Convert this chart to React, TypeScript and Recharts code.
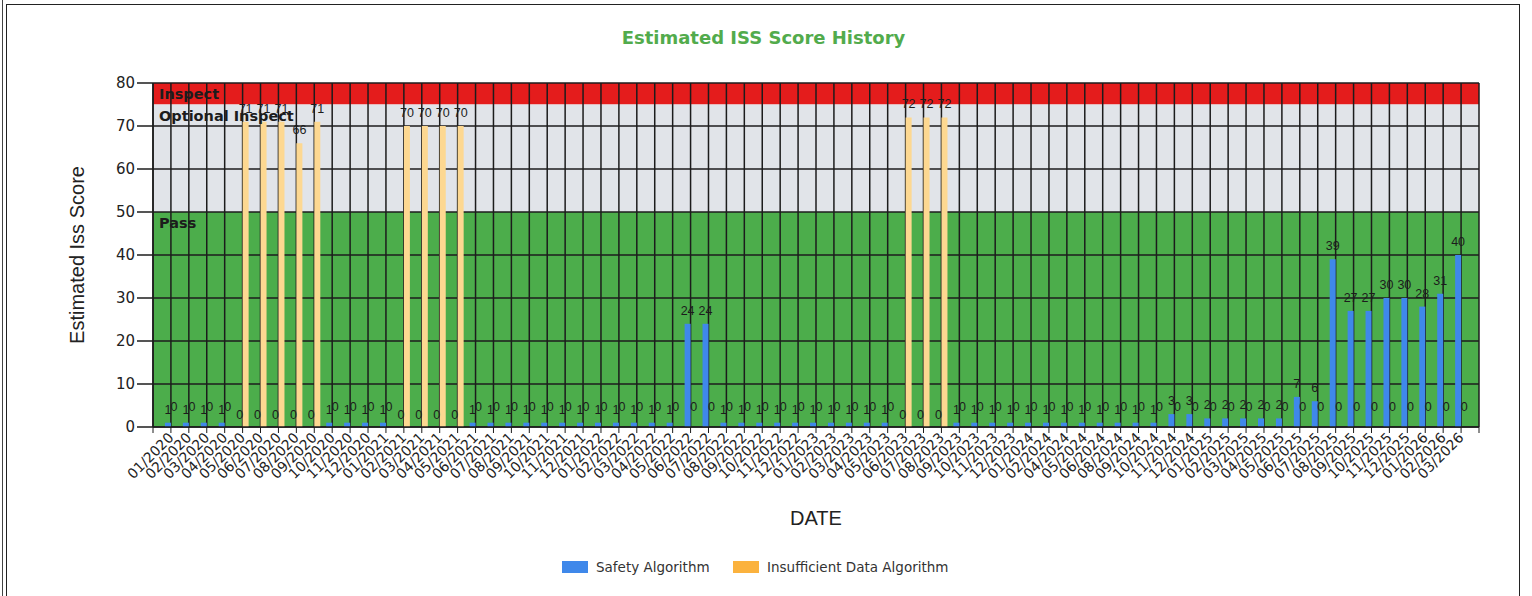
import { Bar, BarChart, CartesianGrid, LabelList, ReferenceArea, XAxis, YAxis } from "recharts";

// One label per month with data (two months of 2024 have no reading).
const MONTHS = [
  "01/2020", "02/2020", "03/2020", "04/2020", "05/2020", "06/2020", "07/2020", "08/2020", "09/2020", "10/2020", "11/2020", "12/2020",
  "01/2021", "02/2021", "03/2021", "04/2021", "05/2021", "06/2021", "07/2021", "08/2021", "09/2021", "10/2021", "11/2021", "12/2021",
  "01/2022", "02/2022", "03/2022", "04/2022", "05/2022", "06/2022", "07/2022", "08/2022", "09/2022", "10/2022", "11/2022", "12/2022",
  "01/2023", "02/2023", "03/2023", "04/2023", "05/2023", "06/2023", "07/2023", "08/2023", "09/2023", "10/2023", "11/2023", "12/2023",
  "01/2024", "02/2024", "04/2024", "05/2024", "06/2024", "08/2024", "09/2024", "10/2024", "11/2024", "12/2024",
  "01/2025", "02/2025", "03/2025", "04/2025", "05/2025", "06/2025", "07/2025", "08/2025", "09/2025", "10/2025", "11/2025", "12/2025",
  "01/2026", "02/2026", "03/2026",
];

const SAFETY = [
  1, 1, 1, 1, 0, 0, 0, 0, 0, 1, 1, 1,
  1, 0, 0, 0, 0, 1, 1, 1, 1, 1, 1, 1,
  1, 1, 1, 1, 1, 24, 24, 1, 1, 1, 1, 1,
  1, 1, 1, 1, 1, 0, 0, 0, 1, 1, 1, 1,
  1, 1, 1, 1, 1, 1, 1, 1, 3, 3,
  2, 2, 2, 2, 2, 7, 6, 39, 27, 27, 30, 30,
  28, 31, 40,
];

const INSUFFICIENT = [
  0, 0, 0, 0, 71, 71, 71, 66, 71, 0, 0, 0,
  0, 70, 70, 70, 70, 0, 0, 0, 0, 0, 0, 0,
  0, 0, 0, 0, 0, 0, 0, 0, 0, 0, 0, 0,
  0, 0, 0, 0, 0, 72, 72, 72, 0, 0, 0, 0,
  0, 0, 0, 0, 0, 0, 0, 0, 0, 0,
  0, 0, 0, 0, 0, 0, 0, 0, 0, 0, 0, 0,
  0, 0, 0,
];

const Y_TICKS = [0, 10, 20, 30, 40, 50, 60, 70, 80];

const BANDS = [
  { from: 75, to: 80, fill: "#e41c1c", label: "Inspect" },
  { from: 50, to: 75, fill: "#e1e4e9", label: "Optional Inspect" },
  { from: 0, to: 50, fill: "#4cad4b", label: "Pass" },
];

const BLUE = "#3f88ea";
const ORANGE_BAR = "#fdd891";
const ORANGE_KEY = "#fbb23e";
const INK = "#1c1c1c";

// Months sit on whole positions 1..N; the axis runs 0..N+1 like the source chart.
const data = MONTHS.map((month, i) => ({
  k: i + 1,
  month,
  safety: SAFETY[i],
  insufficient: INSUFFICIENT[i],
}));
const X_TICKS = Array.from({ length: MONTHS.length + 2 }, (_, i) => i);

function DateTick({ x, y, payload }: { x?: number; y?: number; payload?: { value: number } }) {
  const label = MONTHS[(payload?.value ?? 0) - 1];
  if (!label || x == null || y == null) return null;
  return (
    <text
      x={x}
      y={y}
      dy={5}
      textAnchor="end"
      transform={`rotate(-45 ${x} ${y})`}
      fontSize={14}
      fontFamily="DejaVu Sans"
      fill="#222"
    >
      {label}
    </text>
  );
}

// Value above each bar; zero labels get lifted a bit so pairs don't sit on one line
// (the source chart nudges them around with callouts).
function ValueLabel(lift: number) {
  return (props: any) => {
    const { x, y, width, value } = props;
    if (value == null) return null;
    const v = Number(value);
    const dy = v === 0 ? lift : 9;
    return (
      <text
        x={Number(x) + Number(width) / 2}
        y={Number(y) - dy}
        textAnchor="middle"
        fontSize={12.5}
        fontFamily="Liberation Sans"
        fill={INK}
      >
        {v}
      </text>
    );
  };
}

export default function App() {
  return (
    <div
      style={{
        position: "absolute",
        left: 0,
        top: 0,
        width: 1532,
        height: 596,
        background: "#fff",
        overflow: "hidden",
      }}
    >
      <div style={{ position: "absolute", left: 2, top: 0, height: 596, borderLeft: "1px solid #444" }} />
      <div
        style={{
          position: "absolute",
          left: 6,
          top: 4,
          width: 1512,
          height: 620,
          border: "1.5px solid #222",
        }}
      />
      <div
        style={{
          position: "absolute",
          left: 6,
          width: 1515,
          top: 26,
          textAlign: "center",
          fontFamily: "DejaVu Sans",
          fontWeight: "bold",
          fontSize: 18,
          lineHeight: "24px",
          color: "#52ab4c",
        }}
      >
        Estimated ISS Score History
      </div>

      <BarChart
        width={1532}
        height={540}
        data={data}
        margin={{ top: 83, right: 53, bottom: 3, left: 93 }}
        barGap={0}
        style={{ position: "absolute", left: 0, top: 0 }}
      >
        {BANDS.map((b) => (
          <ReferenceArea
            key={b.label}
            y1={b.from}
            y2={b.to}
            fill={b.fill}
            fillOpacity={1}
            stroke="none"
            zIndex={-150}
            label={{
              value: b.label,
              position: "insideTopLeft",
              offset: 6,
              fill: INK,
              fontSize: 14.5,
              fontWeight: "bold",
              fontFamily: "DejaVu Sans",
            }}
          />
        ))}
        <CartesianGrid stroke={INK} strokeWidth={1.5} zIndex={-100} />
        <XAxis
          type="number"
          dataKey="k"
          domain={[0, MONTHS.length + 1]}
          ticks={X_TICKS}
          interval={0}
          allowDecimals={false}
          height={110}
          tickSize={6}
          tickMargin={2}
          tickLine={{ stroke: INK }}
          axisLine={{ stroke: INK, strokeWidth: 1.5 }}
          tick={<DateTick />}
          label={{
            value: "DATE",
            position: "insideBottom",
            offset: 12,
            fontSize: 20,
            fontFamily: "Liberation Sans",
            fill: "#222",
          }}
        />
        <YAxis
          domain={[0, 80]}
          ticks={Y_TICKS}
          interval={0}
          width={60}
          tickSize={16}
          tickMargin={2}
          tickLine={{ stroke: INK, strokeWidth: 1.5 }}
          axisLine={{ stroke: INK, strokeWidth: 1.5 }}
          tick={{ fill: "#222", fontSize: 15, fontFamily: "DejaVu Sans" }}
          label={{
            value: "Estimated Iss Score",
            angle: -90,
            position: "left",
            offset: 16,
            fontSize: 20,
            fontFamily: "Liberation Sans",
            fill: "#222",
            style: { textAnchor: "middle" },
          }}
        />
        <Bar
          dataKey="safety"
          name="Safety Algorithm"
          fill={BLUE}
          barSize={6}
          minPointSize={0.01}
          isAnimationActive={false}
        >
          <LabelList dataKey="safety" content={ValueLabel(8)} />
        </Bar>
        <Bar
          dataKey="insufficient"
          name="Insufficient Data Algorithm"
          fill={ORANGE_BAR}
          barSize={6}
          minPointSize={0.01}
          isAnimationActive={false}
        >
          <LabelList dataKey="insufficient" content={ValueLabel(16)} />
        </Bar>
      </BarChart>

      <div
        style={{
          position: "absolute",
          top: 561,
          left: 562,
          fontFamily: "DejaVu Sans",
          fontSize: 13.5,
          color: "#333",
          lineHeight: "13px",
        }}
      >
        <span style={{ position: "absolute", left: 0, top: 0, width: 26, height: 12, background: BLUE }} />
        <span style={{ position: "absolute", left: 34, top: 0, whiteSpace: "nowrap" }}>Safety Algorithm</span>
        <span style={{ position: "absolute", left: 171, top: 0, width: 26, height: 12, background: ORANGE_KEY }} />
        <span style={{ position: "absolute", left: 205, top: 0, whiteSpace: "nowrap" }}>Insufficient Data Algorithm</span>
      </div>
    </div>
  );
}
